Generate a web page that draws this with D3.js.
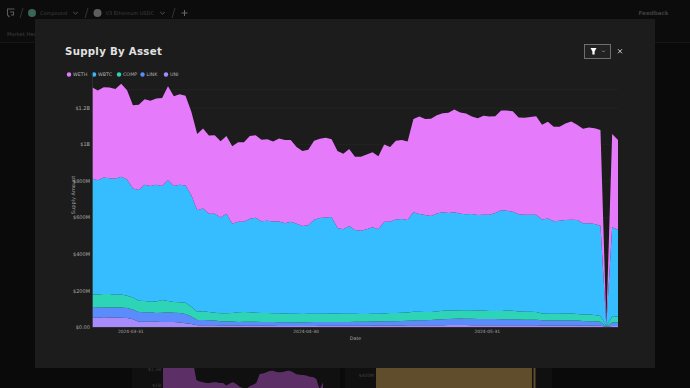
<!DOCTYPE html>
<html>
<head>
<meta charset="utf-8">
<script src="https://cdn.jsdelivr.net/npm/d3@7"></script>
<style>
  html, body { margin: 0; padding: 0; background: #0a0a0a; overflow: hidden; }
  svg { display: block; font-family: "DejaVu Sans", sans-serif; }
</style>
</head>
<body>
<div class="chart"></div>
<script>
// supply by asset, $M per day
var assets = ['WETH', 'WBTC', 'COMP', 'LINK', 'UNI'];
var assetColors = ['#e57bfa', '#35bdff', '#2dd4b5', '#5a8dfb', '#a78bfa'];
var startDay = '2024-03-25';

var weth = [499,490,493,496,491,508,488,455,466,468,466,472,482,515,491,495,490,456,417,438,428,430,417,425,424,435,435,452,
  452,445,446,438,454,454,446,419,410,413,431,433,436,426,421,413,421,401,405,410,409,400,422,409,430,432,430,511,533,526,532,
  537,542,548,561,554,552,533,530,541,537,530,545,548,550,530,530,535,539,518,528,516,514,528,537,521,517,524,524,523,10,510,490];
var wbtc = [634,625,638,634,634,644,636,596,605,636,633,638,624,660,634,643,641,610,554,562,537,541,524,544,489,496,494,512,
  519,502,505,502,502,494,503,493,481,484,514,523,526,527,467,461,479,458,455,463,474,462,502,500,511,512,506,544,535,530,525,
  536,538,533,538,528,525,527,522,524,526,536,551,546,541,531,531,531,532,514,521,506,508,511,513,514,498,499,497,494,5,489,474];
var comp = [69,70,73,73,70,71,67,66,62,61,58,63,69,62,59,59,62,54,46,48,45,42,43,45,46,52,53,51,
  49,49,49,48,49,48,47,47,46,46,46,46,46,47,47,45,45,43,42,42,42,42,43,45,45,45,45,47,46,45,44,
  44,46,46,45,45,46,46,46,46,44,43,45,48,47,44,43,43,42,37,37,37,37,38,38,36,36,37,35,31,2,32,34];
var link = [58,57,54,55,55,56,55,54,53,52,51,48,50,52,51,51,51,41,29,29,28,27,24,22,22,20,22,22,
  22,21,20,20,20,20,20,19,19,20,21,20,20,20,20,21,21,22,22,22,23,22,23,23,24,25,25,27,28,27,28,
  31,33,33,34,35,34,35,34,34,34,34,33,32,32,32,31,31,31,29,28,28,28,28,28,27,26,24,24,22,2,18,18];
var uni = [51,51,53,52,52,51,49,42,29,29,29,29,28,28,27,25,20,16,9,9,9,9,8,8,8,8,7,7,
  7,7,7,7,6,6,6,6,6,6,6,7,7,7,7,7,7,7,7,7,7,8,8,8,8,8,9,9,9,10,10,
  10,10,11,11,11,11,10,10,10,10,10,10,10,10,9,9,9,9,8,8,8,8,8,8,8,7,7,7,7,1,6,6];

var yTicks = [0, 200, 400, 600, 800, 1000, 1200];
var yTickLabels = ['$0.00', '$200M', '$400M', '$600M', '$800M', '$1B', '$1.2B'];
var gridValues = [200, 400, 600, 800, 1000, 1200, 1300];
var xTicks = ['2024-03-31', '2024-04-30', '2024-05-31'];

// the dimmed chart behind the dialog
var behindSupply = [1310,1310,1310,1310,1310,1310,1310,1310,1310,1300,1070,1050,1040,1030,1030,1040,1040,1030,1030,1000,1025,1040,1020,
  985,970,960,990,1010,1030,1145,1150,1165,1180,1185,1170,1165,1170,1180,1185,1165,1140,1135,1130,1125,1110,1105,1080,950,1040];
var behindTicks = [1200, 1000];
var behindTickLabels = ['$1.2B', '$1B'];

var W = 690, H = 388;
var margin = { top: 71, right: 72, bottom: 61, left: 92 };
var width = W - margin.left - margin.right;
var height = H - margin.top - margin.bottom;

var svg = d3.select('.chart')
  .append('svg')
    .attr('width', W)
    .attr('height', H);

drawBackdrop();

// dialog
svg.append('rect')
  .attr('x', 35).attr('y', 19)
  .attr('width', 620).attr('height', 349)
  .attr('fill', '#1c1c1c');

svg.append('text')
  .attr('x', 65).attr('y', 55)
  .attr('fill', '#e2e2e2')
  .attr('font-size', 10.2)
  .attr('font-weight', 700)
  .attr('letter-spacing', 0.3)
  .text('Supply By Asset');

var legendX = [69, 94, 119, 142.5, 166];
var legend = svg.append('g').selectAll('g')
  .data(assets)
  .enter()
  .append('g')
    .attr('transform', (d, i) => `translate(${legendX[i]}, 74.5)`);
legend.append('circle')
  .attr('r', 2.2)
  .attr('fill', (d, i) => assetColors[i]);
legend.append('text')
  .attr('x', 4)
  .attr('y', 1.9)
  .attr('fill', '#b5b5b5')
  .attr('font-size', 4.8)
  .text(d => d);

drawButtons();

// chart
var g = svg.append('g')
  .attr('transform', `translate(${margin.left}, ${margin.top})`);

var start = d3.isoParse(startDay + 'T00:00:00Z');
var days = d3.range(weth.length).map(i => d3.utcDay.offset(start, i));
var table = days.map((d, i) => ({
  date: d, WETH: weth[i], WBTC: wbtc[i], COMP: comp[i], LINK: link[i], UNI: uni[i]
}));

// tick dates sit a bit right of the points they belong to, so shift the domain
var xScale = d3.scaleUtc()
  .domain([d3.utcHour.offset(start, -13), d3.utcHour.offset(days[days.length - 1], -13)])
  .range([0, width]);

var yScale = d3.scaleLinear()
  .domain([0, 1400])
  .range([height, 0]);

g.append('g')
  .selectAll('line')
  .data(gridValues)
  .enter()
  .append('line')
    .attr('x1', 0)
    .attr('x2', width)
    .attr('y1', d => yScale(d) + 0.5)
    .attr('y2', d => yScale(d) + 0.5)
    .attr('stroke', '#282828')
    .attr('stroke-width', 0.6);

// stack order: UNI on the bottom, WETH on top
var stack = d3.stack()
  .keys(assets.slice().reverse());

var area = d3.area()
  .x((d, i) => xScale(d3.utcHour.offset(days[i], -13)))
  .y0(d => yScale(d[0]))
  .y1(d => yScale(d[1]));

g.selectAll('path.layer')
  .data(stack(table))
  .enter()
  .append('path')
    .attr('class', 'layer')
    .attr('d', area)
    .attr('fill', d => assetColors[assets.indexOf(d.key)]);

var yAxis = d3.axisLeft(yScale)
  .tickValues(yTicks)
  .tickFormat((d, i) => yTickLabels[i])
  .tickSize(0)
  .tickPadding(2);

var xAxis = d3.axisBottom(xScale)
  .tickValues(xTicks.map(d => d3.isoParse(d + 'T00:00:00Z')))
  .tickFormat(d3.utcFormat('%Y-%m-%d'))
  .tickSize(0)
  .tickPadding(2.5);

g.append('g').call(yAxis).call(styleAxis, 5);
g.append('g').attr('transform', `translate(0, ${height})`).call(xAxis).call(styleAxis, 4.4);

g.append('text')
  .attr('transform', `translate(-17.5, ${height / 2 - 4}) rotate(-90)`)
  .attr('text-anchor', 'middle')
  .attr('fill', '#a0a0a0')
  .attr('font-size', 5)
  .text('Supply Amount');

g.append('text')
  .attr('x', width / 2 + 0.5)
  .attr('y', height + 13)
  .attr('text-anchor', 'middle')
  .attr('fill', '#a0a0a0')
  .attr('font-size', 4.8)
  .text('Date');


function styleAxis(sel, size) {
  sel.selectAll('text')
    .attr('fill', '#a8a8a8')
    .attr('font-size', size)
    .attr('font-family', '"DejaVu Sans", sans-serif');
  sel.select('.domain')
    .attr('stroke', '#333')
    .attr('stroke-width', 0.8);
}

function drawButtons() {
  svg.append('rect')
    .attr('x', 584.5).attr('y', 44.5)
    .attr('width', 26).attr('height', 14)
    .attr('fill', '#222')
    .attr('stroke', '#777')
    .attr('stroke-width', 0.9);
  svg.append('path')
    .attr('d', 'M590.5 48H596.5L594.6 51.5V54.5H592.4V51.5Z')
    .attr('fill', '#fff');
  svg.append('path')
    .attr('d', 'M602.3 50.7L603.5 52L604.7 50.7')
    .attr('fill', 'none')
    .attr('stroke', '#aaa')
    .attr('stroke-width', 0.7);
  svg.append('path')
    .attr('d', 'M618 49.2L622 53.3M622 49.2L618 53.3')
    .attr('stroke', '#ddd')
    .attr('stroke-width', 0.9);
}

function drawBackdrop() {
  var dim = '#3f3f3f';

  svg.append('rect')
    .attr('width', W).attr('height', 42)
    .attr('fill', '#0c0c0c');
  svg.append('line')
    .attr('x1', 0).attr('x2', W)
    .attr('y1', 42.5).attr('y2', 42.5)
    .attr('stroke', '#161616');

  // logo, breadcrumbs
  svg.append('path')
    .attr('d', 'M9 9H7.5V15L9.5 17M7.5 9H14.5M10 12H13.5V15H11')
    .attr('fill', 'none')
    .attr('stroke', '#5a5a5a')
    .attr('stroke-width', 1.1);
  [[20, 23], [85, 88], [172, 175]].forEach(d => {
    svg.append('line')
      .attr('x1', d[0]).attr('x2', d[1])
      .attr('y1', 18).attr('y2', 8)
      .attr('stroke', '#333');
  });
  svg.append('circle').attr('cx', 32).attr('cy', 13).attr('r', 4)
    .attr('fill', '#3b6357');
  svg.append('circle').attr('cx', 97.5).attr('cy', 13).attr('r', 4)
    .attr('fill', '#5e5e5e');
  [[75.5, 13], [162.5, 13]].forEach(d => {
    svg.append('path')
      .attr('d', `M${d[0] - 2.2} ${d[1] - 1}L${d[0]} ${d[1] + 1.2}L${d[0] + 2.2} ${d[1] - 1}`)
      .attr('fill', 'none')
      .attr('stroke', '#555');
  });
  svg.append('path')
    .attr('d', 'M184.5 10V16M181.5 13H187.5')
    .attr('stroke', '#666');

  var navText = [['Compound', 40, 15, 400, 5], ['V3 Ethereum USDC', 105.5, 15, 400, 5],
    ['Feedback', 638.5, 15, 700, 5.6], ['Market Hea', 7, 35.5, 400, 5.2]];
  svg.append('g').selectAll('text')
    .data(navText)
    .enter()
    .append('text')
      .attr('x', d => d[1])
      .attr('y', d => d[2])
      .attr('font-size', d => d[4])
      .attr('font-weight', d => d[3])
      .attr('fill', dim)
      .text(d => d[0]);

  // panels peeking out under the dialog
  svg.append('rect').attr('x', 132).attr('y', 360)
    .attr('width', 208).attr('height', 28).attr('fill', '#101010');
  svg.append('rect').attr('x', 345).attr('y', 360)
    .attr('width', 207).attr('height', 28).attr('fill', '#101010');

  var bx = d3.scaleLinear().domain([0, behindSupply.length - 1]).range([163, 323]);
  var by = d3.scaleLinear().domain([1200, 1000]).range([369.5, 385.5]);
  var behindArea = d3.area()
    .x((d, i) => bx(i))
    .y0(H)
    .y1(d => by(d));
  svg.append('path')
    .attr('d', behindArea(behindSupply))
    .attr('fill', '#5c3066');

  svg.append('g').selectAll('text')
    .data(behindTicks)
    .enter()
    .append('text')
      .attr('x', 161)
      .attr('y', d => by(d) + 1.8)
      .attr('text-anchor', 'end')
      .attr('font-size', 4.5)
      .attr('fill', dim)
      .text((d, i) => behindTickLabels[i]);

  svg.append('rect').attr('x', 376).attr('y', 360)
    .attr('width', 156).attr('height', 28).attr('fill', '#5f4d2b');
  svg.append('rect').attr('x', 533.5).attr('y', 360)
    .attr('width', 2).attr('height', 28).attr('fill', '#5f4d2b');
  svg.append('text')
    .attr('x', 374).attr('y', 377)
    .attr('text-anchor', 'end')
    .attr('font-size', 4.5)
    .attr('fill', dim)
    .text('$400M');
}
</script>
</body>
</html>
